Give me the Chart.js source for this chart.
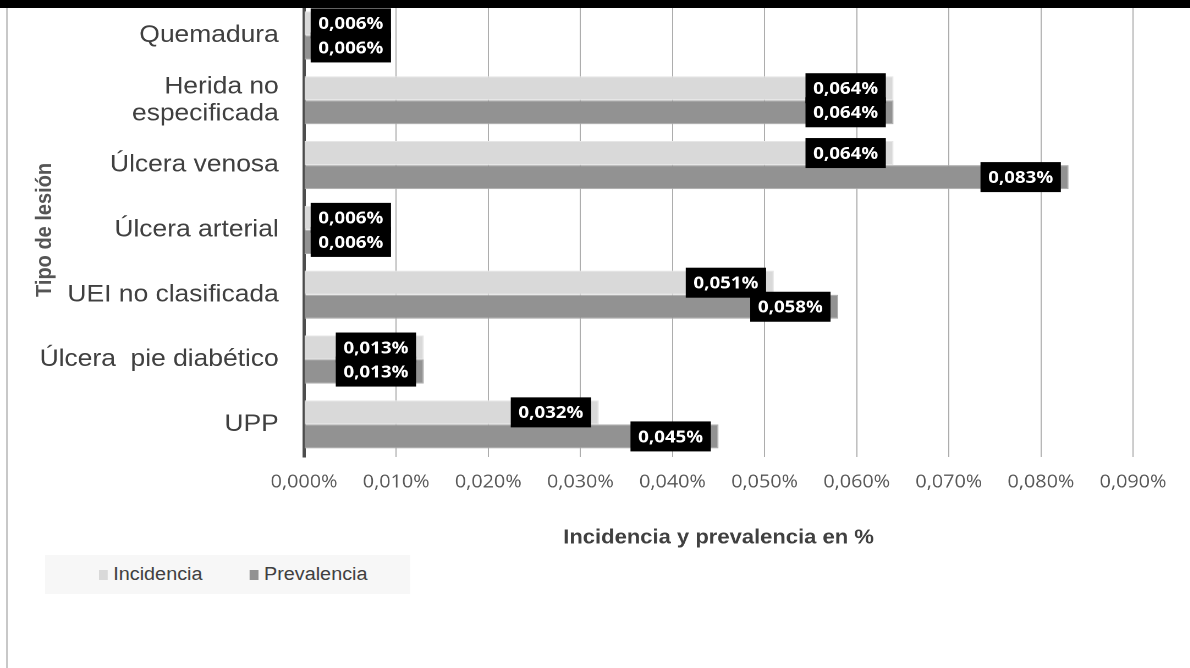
<!DOCTYPE html>
<html>
<head>
<meta charset="utf-8">
<script src="https://cdn.jsdelivr.net/npm/chart.js@4.4.1/dist/chart.umd.min.js"></script>
<style>
  html, body { margin: 0; padding: 0; background: #fff; }
  #page { position: relative; width: 1190px; height: 668px; overflow: hidden; background: #fff; }
  #topbar { position: absolute; left: 0; top: 0; width: 1190px; height: 8px; background: #000; z-index: 2; }
  #leftline { position: absolute; left: 6px; top: 8px; width: 2px; height: 660px; background: #c8c8c8; z-index: 2; }
  /* the reference is a horizontally stretched screenshot, so stretch the drawing the same way */
  #stretch { position: absolute; left: 0; top: 0; width: 1082px; height: 668px; transform: scaleX(1.1); transform-origin: 0 0; }
  #legend { position: absolute; left: 41px; top: 555px; width: 331px; height: 39px; background: #f7f7f7;
            font: 18px "Liberation Sans", Arial, sans-serif; color: #404040; }
  .item { position: absolute; top: 0; height: 39px; display: flex; align-items: center; }
  .swatch { width: 8px; height: 10px; margin-right: 5px; }
</style>
</head>
<body>
<div id="page">
  <div id="topbar"></div>
  <div id="leftline"></div>
  <div id="stretch">
    <canvas id="myChart" width="1082" height="668"></canvas>
    <div id="legend"></div>
  </div>
</div>
<script>
const categories = [
  "Quemadura",
  ["Herida no", "especificada"],
  "Úlcera venosa",
  "Úlcera arterial",
  "UEI no clasificada",
  "Úlcera  pie diabético",
  "UPP",
];
const incidencia = [0.006, 0.064, 0.064, 0.006, 0.051, 0.013, 0.032];
const prevalencia = [0.006, 0.064, 0.083, 0.006, 0.058, 0.013, 0.045];
const xTicks = [0, 0.01, 0.02, 0.03, 0.04, 0.05, 0.06, 0.07, 0.08, 0.09];

const fmt = (v) => v.toFixed(3).replace(".", ",") + "%";

// black value boxes at the end of each bar
const valueBoxes = {
  id: "valueBoxes",
  afterDatasetsDraw(chart) {
    const ctx = chart.ctx;
    ctx.save();
    ctx.font = 'bold 17px "Open Sans", sans-serif';
    const boxes = [];
    chart.data.datasets.forEach((ds, i) => {
      chart.getDatasetMeta(i).data.forEach((bar, j) => {
        const text = fmt(ds.data[j]);
        const w = ctx.measureText(text).width + 14;
        let left = bar.x - 7 - w;
        if (left < bar.base + 5.5) left = bar.base + 5.5;
        boxes.push({ text, left, w, y: bar.y });
      });
    });
    ctx.fillStyle = "#000";
    boxes.forEach((b) => ctx.fillRect(b.left, b.y - 15, b.w, 30));
    ctx.fillStyle = "#fff";
    ctx.textAlign = "center";
    ctx.textBaseline = "middle";
    boxes.forEach((b) => ctx.fillText(b.text, b.left + b.w / 2, b.y + 1));
    ctx.restore();
  },
};

const ctx = document.getElementById("myChart").getContext("2d");

const data = {
  labels: categories,
  datasets: [
    {
      label: "Incidencia",
      data: incidencia,
      backgroundColor: "#d9d9d9",
      borderColor: "#e6e6e6",
      borderWidth: 1,
    },
    {
      label: "Prevalencia",
      data: prevalencia,
      backgroundColor: "#929292",
      borderColor: "#ababab",
      borderWidth: 1,
    },
  ],
};

const config = {
  type: "bar",
  data: data,
  options: {
    indexAxis: "y",
    responsive: false,
    animation: false,
    devicePixelRatio: 2,
    categoryPercentage: 0.742,
    barPercentage: 1,
    layout: {
      padding: { left: 0, right: 52, top: 3, bottom: 118 },
    },
    plugins: {
      legend: { display: false },
      tooltip: { enabled: false },
    },
    scales: {
      x: {
        min: xTicks[0],
        max: xTicks[xTicks.length - 1],
        afterBuildTicks: (scale) => {
          scale.ticks = xTicks.map((v) => ({ value: v }));
        },
        grid: { color: "#adadad", lineWidth: 1, drawTicks: false },
        border: { display: false },
        ticks: {
          padding: 15,
          color: "#595959",
          font: { family: "'Open Sans', sans-serif", size: 18 },
          callback: (v) => fmt(v),
        },
        title: {
          display: true,
          text: "Incidencia y prevalencia en %",
          color: "#404040",
          font: { family: "'Liberation Sans', Arial, sans-serif", size: 20, weight: "bold" },
          padding: { top: 17.6, bottom: 0 },
        },
      },
      y: {
        grid: { display: false, drawTicks: false },
        border: { display: true, color: "#4d4d4d", width: 3 },
        afterFit: (scale) => {
          scale.width = 276.4;
          // bars are offset inside their bands, labels need no extra room
          scale.paddingTop = 0;
          scale.paddingBottom = 0;
        },
        ticks: {
          padding: 23,
          color: "#404040",
          font: { family: "'Liberation Sans', Arial, sans-serif", size: 24, lineHeight: 1.12 },
        },
        title: {
          display: true,
          text: "Tipo de lesión",
          color: "#555555",
          font: { family: "'Liberation Sans', Arial, sans-serif", size: 20, weight: "bold" },
          padding: { top: 29, bottom: 0 },
        },
      },
    },
  },
  plugins: [valueBoxes],
};

const myChart = new Chart(ctx, config);

// legend built from the datasets
const legend = document.getElementById("legend");
const legendX = [49, 186];
myChart.data.datasets.forEach((ds, i) => {
  const item = document.createElement("div");
  item.className = "item";
  item.style.left = legendX[i] + "px";
  const sw = document.createElement("span");
  sw.className = "swatch";
  sw.style.background = ds.backgroundColor;
  item.appendChild(sw);
  item.appendChild(document.createTextNode(ds.label));
  legend.appendChild(item);
});
</script>
</body>
</html>
